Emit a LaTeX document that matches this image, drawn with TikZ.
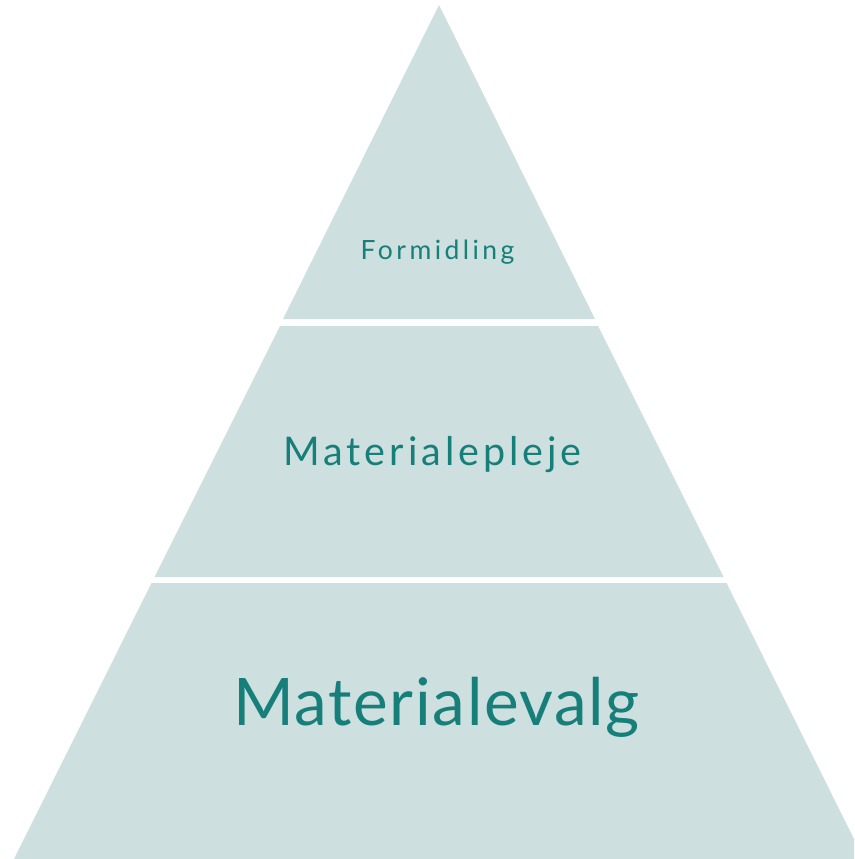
\documentclass[tikz,border=0pt]{standalone}
\usepackage{fontspec}
\setmainfont{Lato}
\definecolor{bandfill}{HTML}{CDDFDF}
\definecolor{labeltext}{HTML}{177F79}
\begin{document}
\begin{tikzpicture}[x=1pt,y=-1pt,
  band/.style={fill=bandfill,draw=none},
  lbl/.style={text=labeltext,anchor=base,inner sep=0pt}]
\useasboundingbox (0,0) rectangle (854,859);
\begin{scope}
\clip (0,0) rectangle (854,859);
\fill[band] (439,5) -- (595,319) -- (283,319) -- cycle;
\fill[band] (280,326) -- (598,326) -- (723.5,577) -- (154.5,577) -- cycle;
\fill[band] (151.5,583) -- (726.5,583) -- (864,859) -- (14,859) -- cycle;
\end{scope}
\node[lbl,font=\fontsize{26.5}{30}\selectfont\addfontfeature{LetterSpace=13}] (top) at (437.5,259) {Formidling};
\node[lbl,font=\fontsize{39.5}{48}\selectfont\addfontfeature{LetterSpace=10}] (mid) at (432.5,465) {Materialepleje};
\node[lbl,font=\fontsize{65.6}{78}\selectfont\addfontfeature{LetterSpace=2.5}] (bot) at (436.5,725) {Materialevalg};
\end{tikzpicture}
\end{document}
